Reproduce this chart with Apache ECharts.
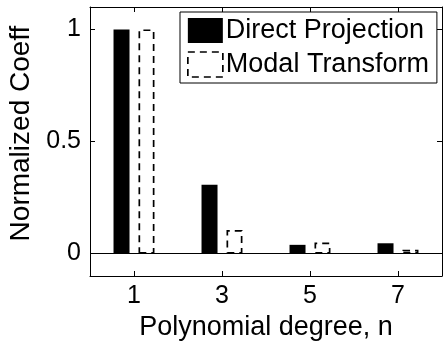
<!DOCTYPE html>
<html>
<head>
<meta charset="utf-8">
<script src="https://cdn.jsdelivr.net/npm/echarts@6/dist/echarts.min.js"></script>
<style>html,body{margin:0;padding:0;background:#fff;}#c{width:443px;height:343px;}</style>
</head>
<body>
<div id="c"></div>
<script>
const degrees = [1, 3, 5, 7];
const directProjection = [1, 0.307, 0.039, 0.046];
const modalTransform = [1, 0.105, 0.049, 0.017];
const xTicks = [1, 3, 5, 7];
const yTicks = [0, 0.5, 1];
const seriesNames = ['Direct Projection', 'Modal Transform'];

const FONT = "'Liberation Sans', Arial, Helvetica, sans-serif";
const chart = echarts.init(document.getElementById('c'), null, {renderer: 'canvas'});
const tickStyle = {show: true, inside: true, length: 5, lineStyle: {color: '#000', width: 1}};
const lineStyle = {show: true, onZero: false, lineStyle: {color: '#000', width: 1}};
chart.setOption({
  animation: false,
  backgroundColor: '#fff',
  textStyle: {fontFamily: FONT, color: '#000'},
  grid: {left: 90, right: 1, top: 7, bottom: 67, containLabel: false, outerBoundsMode: 'none'},
  legend: {
    orient: 'vertical', left: 180, top: 12, width: 256,
    padding: [5, 8, 5, 7], itemGap: 7, itemWidth: 35, itemHeight: 25,
    borderColor: '#000', borderWidth: 1, backgroundColor: '#fff',
    textStyle: {fontFamily: FONT, fontSize: 27, color: '#000', padding: [0, 0, 0, -2]},
    data: [
      {name: seriesNames[0], icon: 'rect', itemStyle: {color: '#000', borderWidth: 0}},
      {name: seriesNames[1], icon: 'rect', itemStyle: {color: '#fff', borderColor: '#000', borderWidth: 1.7, borderType: [7, 5]}}
    ]
  },
  xAxis: [{
    type: 'value', min: 0, max: 8, position: 'bottom',
    name: 'Polynomial degree, n', nameLocation: 'middle', nameGap: 35,
    nameTextStyle: {fontFamily: FONT, fontSize: 27, color: '#000'},
    axisLine: lineStyle,
    axisTick: Object.assign({customValues: xTicks}, tickStyle),
    axisLabel: {customValues: xTicks, fontFamily: FONT, fontSize: 25, color: '#000', margin: 8, formatter: v => String(v)},
    splitLine: {show: false}
  }, {
    type: 'value', min: 0, max: 8, position: 'top',
    axisLine: lineStyle,
    axisTick: Object.assign({customValues: xTicks}, tickStyle),
    axisLabel: {show: false}, splitLine: {show: false}
  }],
  yAxis: [{
    type: 'value', min: -0.1, max: 1.1, position: 'left',
    name: 'Normalized Coeff', nameLocation: 'middle', nameGap: 55,
    nameTextStyle: {fontFamily: FONT, fontSize: 28, color: '#000', padding: [0, 0, 0, 16]},
    axisLine: lineStyle,
    axisTick: Object.assign({customValues: yTicks}, tickStyle),
    axisLabel: {customValues: yTicks, fontFamily: FONT, fontSize: 25, color: '#000', margin: 9, formatter: v => String(v)},
    splitLine: {show: false}
  }, {
    type: 'value', min: -0.1, max: 1.1, position: 'right',
    axisLine: lineStyle,
    axisTick: Object.assign({customValues: yTicks}, tickStyle),
    axisLabel: {show: false}, splitLine: {show: false}
  }],
  series: [{
    name: seriesNames[0], type: 'bar', xAxisIndex: 0, yAxisIndex: 0,
    barWidth: 16, barGap: '56%', z: 3,
    itemStyle: {color: '#000'},
    data: degrees.map((d, i) => [d, directProjection[i]]),
    markLine: {
      silent: true, symbol: 'none', z: 1, label: {show: false},
      lineStyle: {color: '#000', width: 1, type: 'solid'},
      data: [{yAxis: 0}]
    }
  }, {
    name: seriesNames[1], type: 'bar', xAxisIndex: 0, yAxisIndex: 0,
    barWidth: 16, barGap: '56%', z: 3,
    itemStyle: {color: '#fff', borderColor: '#000', borderWidth: 1.7, borderType: [7, 5]},
    data: degrees.map((d, i) => [d, modalTransform[i]])
  }]
});
</script>
</body>
</html>
